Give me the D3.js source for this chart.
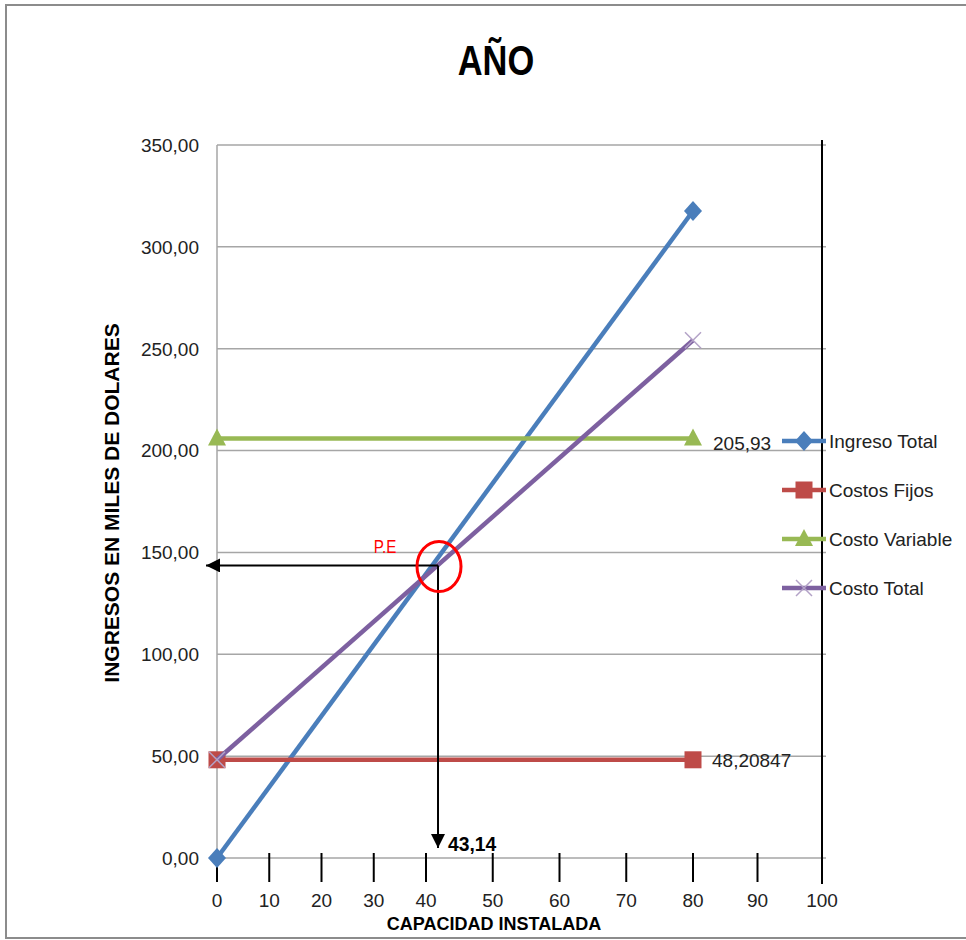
<!DOCTYPE html>
<html><head><meta charset="utf-8">
<script src="https://cdn.jsdelivr.net/npm/d3@7"></script>
<style>body{margin:0;background:#fff}svg{display:block}text{font-family:"Liberation Sans",Arial,sans-serif}</style>
</head><body><svg id="c" width="966" height="940"></svg>
<script>
// ---- data ----
const capacity = [0, 80];
const ingresoTotal = [0, 317.6];
const costosFijos = [48.20847, 48.20847];
const costoVariable = [205.93, 205.93];
const costoTotal = [48.20847, 254.14];
const seriesNames = ["Ingreso Total", "Costos Fijos", "Costo Variable", "Costo Total"];
const yTicks = [0, 50, 100, 150, 200, 250, 300, 350];
const xTicks = [0, 10, 20, 30, 40, 50, 60, 70, 80, 90, 100];
const peValue = [41.8, 143.6];
const peLabel = "43,14";
const dataLabels = ["205,93", "48,20847"];

const svg = d3.select("#c");
const fmt = v => d3.format(".2f")(v).replace(".", ",");

// scales (hand-placed category ticks in the original are slightly uneven)
const x = d3.scaleLinear().domain([0, 40, 80, 100]).range([217, 426, 693, 822]);
const y = d3.scaleLinear().domain([0, 350]).range([858, 145]);

// frame
svg.append("rect").attr("x", 6).attr("y", 5).attr("width", 980).attr("height", 933)
  .attr("fill", "none").attr("stroke", "#8c8c8c").attr("stroke-width", 2);

// title
svg.append("text").attr("transform", "translate(496,75) scale(0.82,1)")
  .attr("text-anchor", "middle").attr("font-size", 42).attr("font-weight", "bold").text("AÑO");

// gridlines
svg.append("g").selectAll("line").data(yTicks.filter(d => d > 0)).join("line")
  .attr("x1", 217).attr("x2", 826).attr("y1", d => y(d)).attr("y2", d => y(d))
  .attr("stroke", "#a6a6a6").attr("stroke-width", 1.5);
// y axis line + base
svg.append("line").attr("x1", 217).attr("x2", 217).attr("y1", y(350)).attr("y2", y(0))
  .attr("stroke", "#a6a6a6").attr("stroke-width", 1.5);
svg.append("line").attr("x1", 217).attr("x2", 826).attr("y1", y(0)).attr("y2", y(0))
  .attr("stroke", "#a6a6a6").attr("stroke-width", 1.5);

// y tick labels
svg.append("g").selectAll("text").data(yTicks).join("text")
  .attr("x", 199).attr("y", d => y(d)).attr("dy", "0.36em").attr("text-anchor", "end")
  .attr("font-size", 19).attr("fill", "#222").text(fmt);

// y axis title
svg.append("text").attr("transform", "translate(119,503) rotate(-90)")
  .attr("text-anchor", "middle").attr("font-size", 21).attr("font-weight", "bold").text("INGRESOS EN MILES DE DOLARES");

// x ticks (black) and labels
svg.append("g").selectAll("line").data(xTicks).join("line")
  .attr("x1", d => x(d)).attr("x2", d => x(d)).attr("y1", 853).attr("y2", 882)
  .attr("stroke", "#000").attr("stroke-width", 2);
svg.append("g").selectAll("text").data(xTicks).join("text")
  .attr("x", d => x(d)).attr("y", 907).attr("text-anchor", "middle")
  .attr("font-size", 19).attr("fill", "#222").text(d => d);
svg.append("text").attr("transform", "translate(494,930)").attr("text-anchor", "middle")
  .attr("font-size", 18).attr("font-weight", "bold").text("CAPACIDAD INSTALADA");

// right black vertical line
svg.append("line").attr("x1", x(100)).attr("x2", x(100)).attr("y1", 140).attr("y2", 884)
  .attr("stroke", "#000").attr("stroke-width", 2);

// series
const series = [
  {name: seriesNames[0], vals: ingresoTotal, color: "#4a7ebb", marker: "diamond"},
  {name: seriesNames[1], vals: costosFijos, color: "#be4b48", marker: "square"},
  {name: seriesNames[2], vals: costoVariable, color: "#98b954", marker: "triangle"},
  {name: seriesNames[3], vals: costoTotal, color: "#7d60a0", marker: "x"}
];
const line = d3.line().x(d => x(d[0])).y(d => y(d[1]));

function drawMarker(g, type, cx, cy, color) {
  if (type === "diamond") {
    g.append("path").attr("d", `M${cx},${cy - 10}L${cx + 9},${cy}L${cx},${cy + 10}L${cx - 9},${cy}Z`)
      .attr("fill", color);
  } else if (type === "square") {
    g.append("rect").attr("x", cx - 8.5).attr("y", cy - 8.5).attr("width", 17).attr("height", 17).attr("fill", color);
  } else if (type === "triangle") {
    g.append("path").attr("d", `M${cx},${cy - 10}L${cx + 9},${cy + 7}L${cx - 9},${cy + 7}Z`).attr("fill", color);
  } else {
    g.append("path").attr("d", `M${cx - 8},${cy - 8}L${cx + 8},${cy + 8}M${cx - 8},${cy + 8}L${cx + 8},${cy - 8}`)
      .attr("stroke", "#b3a2c7").attr("stroke-width", 1.5).attr("fill", "none");
  }
}

series.forEach(s => {
  const pts = capacity.map((c, i) => [c, s.vals[i]]);
  const g = svg.append("g");
  g.append("path").attr("d", line(pts)).attr("fill", "none").attr("stroke", s.color).attr("stroke-width", 4.5);
  pts.forEach(p => drawMarker(g, s.marker, x(p[0]), y(p[1]), s.color));
});

// data labels
svg.append("text").attr("x", x(capacity[1]) + 20).attr("y", y(costoVariable[1])).attr("dy", "0.6em")
  .attr("font-size", 19).attr("fill", "#222").text(dataLabels[0]);
svg.append("text").attr("x", x(capacity[1]) + 19).attr("y", y(costosFijos[1])).attr("dy", "0.36em")
  .attr("font-size", 19).attr("fill", "#222").text(dataLabels[1]);

// legend
const lg = svg.append("g");
series.forEach((s, i) => {
  const ly = 441 + i * 49;
  lg.append("line").attr("x1", 782).attr("x2", 826).attr("y1", ly).attr("y2", ly)
    .attr("stroke", s.color).attr("stroke-width", 4.5);
  drawMarker(lg, s.marker, 804, ly, s.color);
  lg.append("text").attr("x", 829).attr("y", ly).attr("dy", "0.36em")
    .attr("font-size", 19).attr("fill", "#222").text(s.name);
});

// break-even annotation
const px = x(peValue[0]), py = y(peValue[1]);
svg.append("defs").append("marker").attr("id", "ah").attr("viewBox", "0 0 10 10")
  .attr("refX", 10).attr("refY", 5).attr("markerWidth", 7).attr("markerHeight", 7)
  .attr("markerUnits", "strokeWidth").attr("orient", "auto")
  .append("path").attr("d", "M0,0L10,5L0,10Z").attr("fill", "#000");
svg.append("line").attr("x1", px).attr("y1", py).attr("x2", 206).attr("y2", py)
  .attr("stroke", "#000").attr("stroke-width", 2).attr("marker-end", "url(#ah)");
svg.append("line").attr("x1", px).attr("y1", py).attr("x2", px).attr("y2", 848)
  .attr("stroke", "#000").attr("stroke-width", 2).attr("marker-end", "url(#ah)");
svg.append("ellipse").attr("cx", px + 1).attr("cy", py + 1).attr("rx", 22).attr("ry", 25)
  .attr("fill", "none").attr("stroke", "#ff0000").attr("stroke-width", 3);
svg.append("text").attr("transform", `translate(${px - 53},${py - 12}) scale(0.8,1)`)
  .attr("text-anchor", "middle").attr("font-size", 19).attr("fill", "#ff0000").text("P.E");
svg.append("text").attr("transform", `translate(${px + 10},851) scale(0.92,1)`).attr("font-size", 21).attr("font-weight", "bold")
  .text(peLabel);
</script></body></html>
